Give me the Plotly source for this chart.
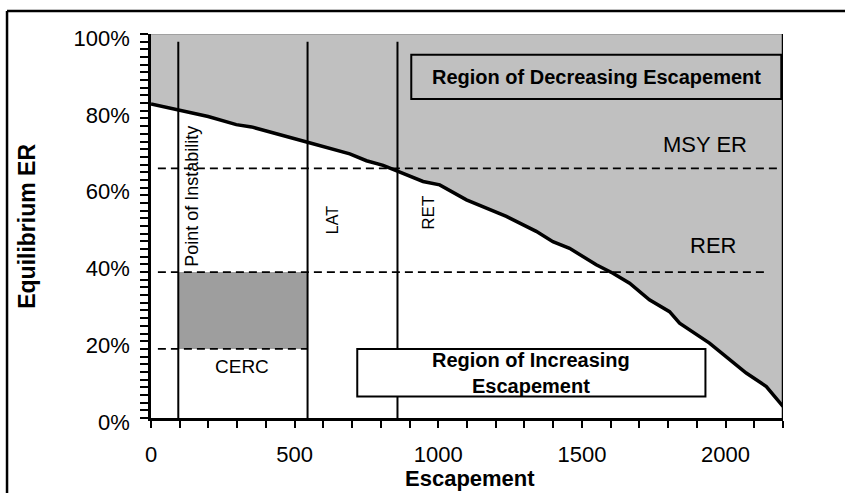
import plotly.graph_objects as go

# ---- data ----
escapement = [0, 94, 199, 297, 350, 545, 692, 750, 808, 860, 947, 1005, 1098, 1237,
              1341, 1399, 1457, 1550, 1608, 1666, 1735, 1805, 1840, 1944, 2072, 2142, 2200]
equilibrium_er = [0.818, 0.803, 0.785, 0.764, 0.758, 0.718, 0.688, 0.670, 0.658, 0.642,
                  0.616, 0.607, 0.568, 0.525, 0.486, 0.459, 0.442, 0.399, 0.377, 0.351,
                  0.308, 0.277, 0.247, 0.195, 0.117, 0.082, 0.030]
msy_er = 0.65
rer = 0.38
cerc = 0.18
point_of_instability = 95
lat = 545
ret = 858
x_max = 2200

FONT = "Liberation Sans, Arial, sans-serif"

fig = go.Figure()

# grey region above the curve
fig.add_trace(go.Scatter(x=escapement, y=equilibrium_er, mode="lines",
                         line=dict(width=0, color="rgba(0,0,0,0)"), hoverinfo="skip",
                         showlegend=False))
fig.add_trace(go.Scatter(x=escapement, y=[1.0] * len(escapement), mode="lines",
                         fill="tonexty", fillcolor="#C0C0C0",
                         line=dict(width=0, color="rgba(0,0,0,0)"), hoverinfo="skip",
                         showlegend=False))
# equilibrium curve
fig.add_trace(go.Scatter(x=escapement, y=equilibrium_er, mode="lines",
                         line=dict(width=3.5, color="black"), showlegend=False))

shapes = []
# CERC box
shapes.append(dict(type="rect", xref="x", yref="y", x0=point_of_instability, x1=lat,
                   y0=cerc, y1=rer, fillcolor="#9E9E9E", line=dict(width=0), layer="below"))
# dashed reference lines
dash = "8px,5px"
shapes.append(dict(type="line", xref="x", yref="y", x0=24, x1=2188, y0=msy_er, y1=msy_er,
                   line=dict(color="black", width=1.6, dash=dash), layer="above"))
shapes.append(dict(type="line", xref="x", yref="y", x0=24, x1=2146, y0=rer, y1=rer,
                   line=dict(color="black", width=1.6, dash=dash), layer="above"))
shapes.append(dict(type="line", xref="x", yref="y", x0=24, x1=lat, y0=cerc, y1=cerc,
                   line=dict(color="black", width=1.6, dash=dash), layer="above"))
# vertical lines
for xv in (point_of_instability, lat, ret):
    shapes.append(dict(type="line", xref="x", yref="y", x0=xv, x1=xv, y0=0, y1=0.98,
                       line=dict(color="black", width=2), layer="above"))
# plot area top & right borders
shapes.append(dict(type="line", xref="x", yref="y", x0=0, x1=x_max, y0=1, y1=1,
                   line=dict(color="#808080", width=1), layer="above"))
shapes.append(dict(type="line", xref="x", yref="y", x0=x_max, x1=x_max, y0=0, y1=1,
                   line=dict(color="black", width=2.5), layer="above"))
# text boxes
shapes.append(dict(type="rect", xref="x", yref="y", x0=906, x1=2194, y0=0.831, y1=0.946,
                   line=dict(color="black", width=2), fillcolor="rgba(0,0,0,0)", layer="above"))
shapes.append(dict(type="rect", xref="x", yref="y", x0=718, x1=1930, y0=0.056, y1=0.18,
                   line=dict(color="black", width=2), fillcolor="white", layer="above"))
# outer border (top and left)
shapes.append(dict(type="line", xref="paper", yref="paper", x0=-0.2278, x1=1.2,
                   y0=1.0599, y1=1.0599, line=dict(color="black", width=2.5)))
shapes.append(dict(type="line", xref="paper", yref="paper", x0=-0.2278, x1=-0.2278,
                   y0=1.0599, y1=-0.3, line=dict(color="black", width=2.5)))


def ann(x, y, text, size, ref="data", angle=0):
    d = dict(x=x, y=y, text=text, showarrow=False, textangle=angle,
             xanchor="center", yanchor="middle",
             font=dict(family=FONT, size=size, color="black"))
    if ref == "paper":
        d.update(xref="paper", yref="paper")
    else:
        d.update(xref="x", yref="y")
    return d


annotations = [
    ann(1550, 0.889, "<b>Region of Decreasing Escapement</b>", 20),
    ann(1324, 0.118, "<b>Region of Increasing<br>Escapement</b>", 20),
    ann(1927, 0.711, "MSY ER", 22),
    ann(1955, 0.448, "RER", 22),
    ann(318, 0.134, "CERC", 19),
    ann(144, 0.577, "Point of Instability", 18, angle=-90),
    ann(630, 0.515, "LAT", 16, angle=-90),
    ann(967, 0.534, "RET", 17, angle=-90),
    ann(-0.1965, 0.5, "<b>Equilibrium ER</b>", 23, ref="paper", angle=-90),
    ann(0.5044, -0.158, "<b>Escapement</b>", 22, ref="paper"),
]

fig.update_layout(
    width=845, height=493,
    margin=dict(l=151, r=62, t=34, b=75),
    paper_bgcolor="white", plot_bgcolor="white",
    shapes=shapes, annotations=annotations,
    showlegend=False,
    font=dict(family=FONT, color="black"),
    xaxis=dict(range=[0, x_max], dtick=500, tick0=0, showgrid=False, zeroline=False,
               showline=True, linecolor="black", linewidth=2.5,
               ticks="outside", ticklen=7, tickwidth=2, tickcolor="black",
               tickfont=dict(family=FONT, size=22, color="black"), ticklabelstandoff=8,
               minor=dict(dtick=100, ticks="outside", ticklen=7, tickwidth=2,
                          tickcolor="black", showgrid=False)),
    yaxis=dict(range=[0, 1], dtick=0.2, tick0=0, tickformat=".0%", showgrid=False,
               zeroline=False, showline=True, linecolor="black", linewidth=2.5,
               ticks="outside", ticklen=8, tickwidth=2, tickcolor="black",
               tickfont=dict(family=FONT, size=22, color="black"), ticklabelstandoff=6,
               ticklabelshift=4,
               minor=dict(dtick=0.02, ticks="outside", ticklen=8, tickwidth=2,
                          tickcolor="black", showgrid=False)),
)

fig.write_html("out.html", config={"displayModeBar": False},
               post_script="document.body.style.margin='0';document.body.style.overflow='hidden';")
